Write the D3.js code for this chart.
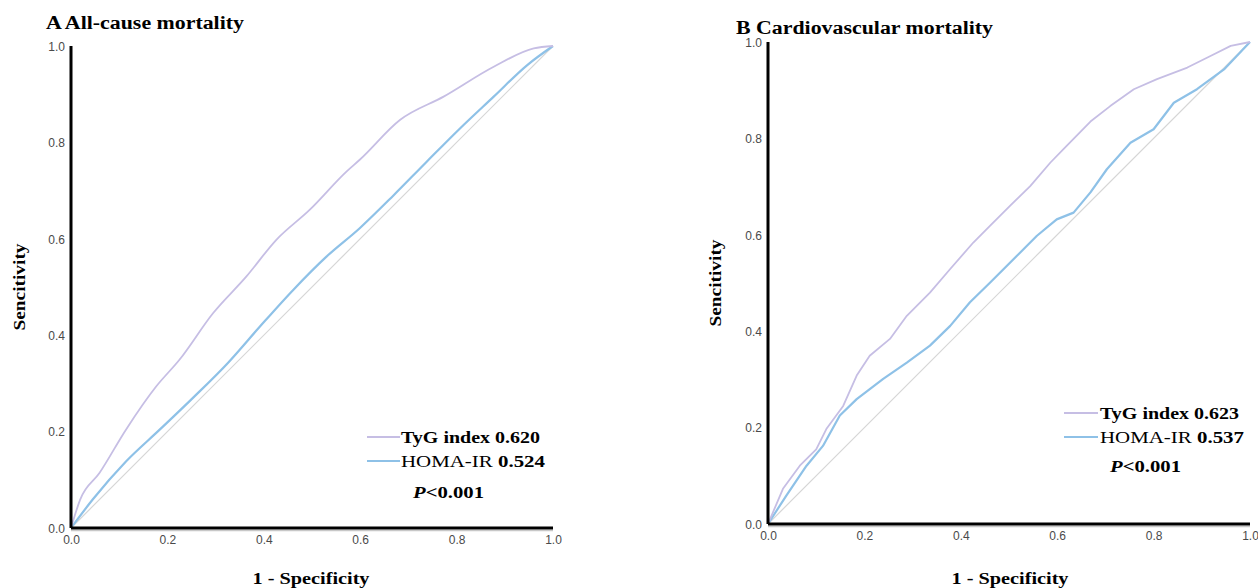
<!DOCTYPE html>
<html>
<head>
<meta charset="utf-8">
<script src="https://cdn.jsdelivr.net/npm/d3@7"></script>
<style>
  html, body { margin: 0; padding: 0; background: #fff; }
  svg { display: block; }
</style>
</head>
<body>
<svg id="chart" width="1258" height="588"></svg>
<script>
// ---------- data ----------
const ticks = [0, 0.2, 0.4, 0.6, 0.8, 1.0];
const tickLabels = ["0.0", "0.2", "0.4", "0.6", "0.8", "1.0"];
const panelTitles = ["A All-cause mortality", "B Cardiovascular mortality"];
const seriesNames = ["TyG index", "HOMA-IR"];
const aucA = ["0.620", "0.524"];
const aucB = ["0.623", "0.537"];
const pText = "<0.001";

// Panel A – all-cause mortality ROC (1-specificity, sensitivity)
const aTygFpr = [0, 0.019, 0.059, 0.114, 0.177, 0.225, 0.295, 0.364, 0.426, 0.495, 0.572, 0.599, 0.683, 0.773, 0.877, 0.960, 1];
const aTygTpr = [0, 0.059, 0.114, 0.204, 0.294, 0.349, 0.446, 0.522, 0.598, 0.660, 0.740, 0.764, 0.847, 0.895, 0.957, 0.995, 1];
const aHomaFpr = [0, 0.045, 0.114, 0.184, 0.253, 0.326, 0.392, 0.461, 0.530, 0.599, 0.669, 0.738, 0.807, 0.877, 0.946, 1];
const aHomaTpr = [0, 0.059, 0.138, 0.204, 0.270, 0.343, 0.418, 0.494, 0.563, 0.622, 0.690, 0.760, 0.829, 0.895, 0.960, 1];

// Panel B – cardiovascular mortality ROC
const bTygFpr = [0, 0.031, 0.066, 0.100, 0.121, 0.156, 0.184, 0.211, 0.253, 0.288, 0.336, 0.378, 0.426, 0.461, 0.502, 0.544, 0.586, 0.613, 0.669, 0.710, 0.759, 0.807, 0.870, 0.918, 0.960, 1];
const bTygTpr = [0, 0.073, 0.121, 0.155, 0.197, 0.245, 0.308, 0.349, 0.384, 0.432, 0.480, 0.529, 0.584, 0.619, 0.660, 0.701, 0.750, 0.778, 0.835, 0.867, 0.902, 0.923, 0.947, 0.971, 0.992, 1];
const bHomaFpr = [0, 0.038, 0.080, 0.114, 0.149, 0.184, 0.239, 0.288, 0.336, 0.378, 0.419, 0.461, 0.516, 0.558, 0.599, 0.634, 0.669, 0.703, 0.752, 0.800, 0.842, 0.890, 0.946, 1];
const bHomaTpr = [0, 0.059, 0.121, 0.162, 0.225, 0.259, 0.301, 0.335, 0.370, 0.411, 0.460, 0.501, 0.556, 0.598, 0.632, 0.646, 0.688, 0.736, 0.791, 0.819, 0.874, 0.902, 0.943, 1];

// ---------- drawing ----------
const svg = d3.select("#chart");
const COL_TYG = "#c6bee4";
const COL_HOMA = "#8ec1e7";
const COL_REF = "#d6d6d6";
const SERIF = "'Liberation Serif', 'Times New Roman', serif";
const SANS = "'Liberation Sans', Arial, sans-serif";

function zip(xs, ys) { return xs.map((x, i) => [x, ys[i]]); }

function drawPanel(cfg) {
  const g = svg.append("g");
  const x = d3.scaleLinear().domain([0, 1]).range([cfg.x0, cfg.x1]);
  const y = d3.scaleLinear().domain([0, 1]).range([cfg.y0, cfg.y1]);
  const line = d3.line().x(d => x(d[0])).y(d => y(d[1]));
  const curve = d3.line().x(d => x(d[0])).y(d => y(d[1])).curve(cfg.curve);

  // title
  g.append("text").attr("x", cfg.titleX).attr("y", cfg.titleY)
    .attr("font-family", SERIF).attr("font-weight", "bold").attr("font-size", 18)
    .attr("textLength", cfg.titleLen).attr("lengthAdjust", "spacingAndGlyphs")
    .text(cfg.title);

  // reference diagonal
  g.append("path").datum(zip([0, 1], [0, 1])).attr("d", line)
    .attr("fill", "none").attr("stroke", COL_REF).attr("stroke-width", 1.2);

  // curves
  g.append("path").datum(zip(cfg.homaX, cfg.homaY)).attr("d", curve)
    .attr("fill", "none").attr("stroke", COL_HOMA).attr("stroke-width", 2.2)
    .attr("stroke-linejoin", "round");
  g.append("path").datum(zip(cfg.tygX, cfg.tygY)).attr("d", curve)
    .attr("fill", "none").attr("stroke", COL_TYG).attr("stroke-width", 1.8)
    .attr("stroke-linejoin", "round");

  // axes
  const xAxis = d3.axisBottom(x).tickValues(ticks).tickSize(0).tickPadding(10)
    .tickFormat((d, i) => tickLabels[i]);
  const yAxis = d3.axisLeft(y).tickValues(ticks).tickSize(0).tickPadding(6)
    .tickFormat((d, i) => tickLabels[i]);
  const gx = g.append("g").attr("transform", `translate(0,${cfg.y0})`).call(xAxis);
  const gy = g.append("g").attr("transform", `translate(${cfg.x0},0)`).call(yAxis);
  [gx, gy].forEach(a => {
    a.select(".domain").remove();
    a.selectAll("text").attr("font-family", SANS).attr("font-size", 12).attr("fill", "#4a4a4a");
  });
  gx.selectAll("text").attr("dy", "0.5em");
  gy.selectAll("text").attr("dy", "0.35em");

  // axis lines (thick black)
  g.append("line").attr("x1", cfg.x0).attr("x2", cfg.x1).attr("y1", cfg.y0 + 2.5).attr("y2", cfg.y0 + 2.5)
    .attr("stroke", "#c8c8c8").attr("stroke-width", 1.5);
  g.append("line").attr("x1", cfg.x0).attr("x2", cfg.x1).attr("y1", cfg.y0).attr("y2", cfg.y0)
    .attr("stroke", "#000").attr("stroke-width", 3);
  g.append("line").attr("x1", cfg.x0).attr("x2", cfg.x0).attr("y1", cfg.y1).attr("y2", cfg.y0)
    .attr("stroke", "#000").attr("stroke-width", 3);

  // axis titles
  g.append("text").attr("x", cfg.xLabX).attr("y", cfg.xLabY).attr("text-anchor", "middle")
    .attr("font-family", SERIF).attr("font-weight", "bold").attr("font-size", 16)
    .attr("textLength", 117).attr("lengthAdjust", "spacingAndGlyphs")
    .text("1 - Specificity");
  g.append("text").attr("transform", `translate(${cfg.yLabX},${cfg.yLabY}) rotate(-90)`)
    .attr("text-anchor", "middle")
    .attr("font-family", SERIF).attr("font-weight", "bold").attr("font-size", 16)
    .attr("textLength", 87).attr("lengthAdjust", "spacingAndGlyphs")
    .text("Sencitivity");

  // legend
  const L = cfg.legend;
  g.append("line").attr("x1", L.lx0).attr("x2", L.lx1).attr("y1", L.y1).attr("y2", L.y1)
    .attr("stroke", COL_TYG).attr("stroke-width", 1.8);
  g.append("line").attr("x1", L.lx0).attr("x2", L.lx1).attr("y1", L.y2).attr("y2", L.y2)
    .attr("stroke", COL_HOMA).attr("stroke-width", 2.2);
  g.append("text").attr("x", L.tx).attr("y", L.y1 + 6)
    .attr("font-family", SERIF).attr("font-weight", "bold").attr("font-size", 17)
    .attr("textLength", L.len1).attr("lengthAdjust", "spacingAndGlyphs")
    .text(seriesNames[0] + " " + cfg.auc[0]);
  const t2 = g.append("text").attr("x", L.tx).attr("y", L.y2 + 6)
    .attr("font-family", SERIF).attr("font-size", 17)
    .attr("textLength", L.len2).attr("lengthAdjust", "spacingAndGlyphs");
  t2.append("tspan").text(seriesNames[1] + " ");
  t2.append("tspan").attr("font-weight", "bold").text(cfg.auc[1]);
  const t3 = g.append("text").attr("x", L.px).attr("y", L.py)
    .attr("font-family", SERIF).attr("font-weight", "bold").attr("font-size", 17)
    .attr("textLength", 71).attr("lengthAdjust", "spacingAndGlyphs");
  t3.append("tspan").attr("font-style", "italic").text("P");
  t3.append("tspan").text(pText);
}

drawPanel({
  x0: 71, x1: 553, y0: 528, y1: 46, curve: d3.curveMonotoneX,
  title: panelTitles[0], titleX: 46, titleY: 29, titleLen: 198,
  xLabX: 311, xLabY: 584, yLabX: 25, yLabY: 287,
  tygX: aTygFpr, tygY: aTygTpr, homaX: aHomaFpr, homaY: aHomaTpr,
  auc: aucA,
  legend: { lx0: 367, lx1: 400, y1: 437, y2: 461, tx: 401, len1: 139, len2: 144, px: 413, py: 498 }
});

drawPanel({
  x0: 768, x1: 1250, y0: 524, y1: 42, curve: d3.curveLinear,
  title: panelTitles[1], titleX: 736, titleY: 34, titleLen: 257,
  xLabX: 1010, xLabY: 584, yLabX: 721, yLabY: 283,
  tygX: bTygFpr, tygY: bTygTpr, homaX: bHomaFpr, homaY: bHomaTpr,
  auc: aucB,
  legend: { lx0: 1064, lx1: 1098, y1: 413, y2: 437, tx: 1100, len1: 139, len2: 144, px: 1110, py: 472 }
});
</script>
</body>
</html>
